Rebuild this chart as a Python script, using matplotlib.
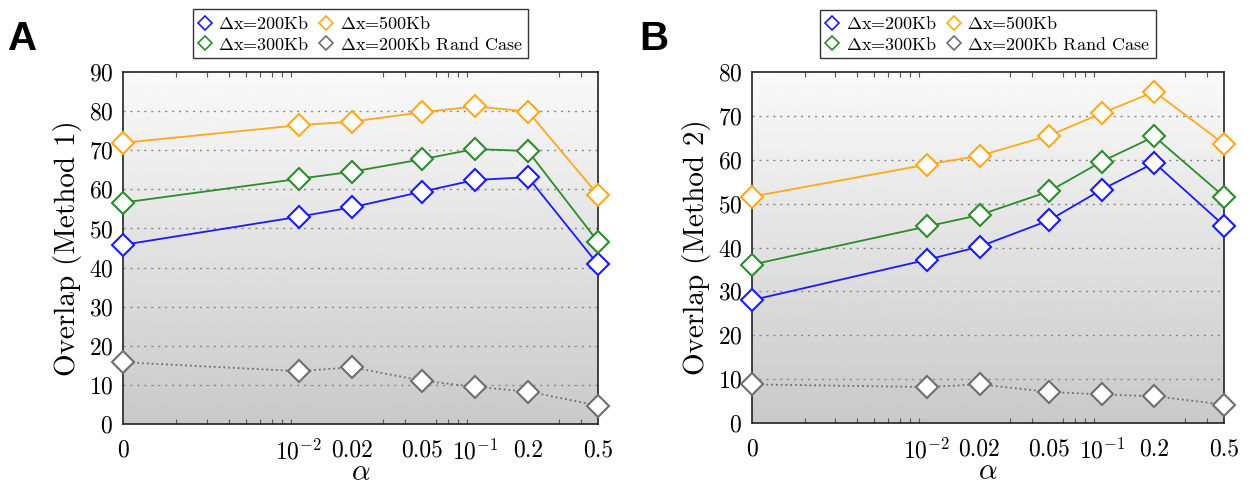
import numpy as np
import matplotlib
matplotlib.use("Agg")
import matplotlib.pyplot as plt
from matplotlib.lines import Line2D
from matplotlib.ticker import FixedLocator, FixedFormatter, LogLocator, NullFormatter

plt.rcParams["mathtext.fontset"] = "cm"
plt.rcParams["font.family"] = ["cmr10", "DejaVu Serif"]
plt.rcParams["axes.unicode_minus"] = False
plt.rcParams["axes.formatter.use_mathtext"] = True

# alpha values; alpha = 0 is drawn at 1e-3 on the log axis
alpha = [1e-3, 0.01, 0.02, 0.05, 0.1, 0.2, 0.5]
alpha_labels = ["0", r"$10^{-2}$", "0.02", "0.05", r"$10^{-1}$", "0.2", "0.5"]

series_names = [r"$\Delta$x=200Kb", r"$\Delta$x=300Kb",
                r"$\Delta$x=500Kb", r"$\Delta$x=200Kb Rand Case"]

# Method 1 overlap
m1_200 = [45.8, 53.0, 55.4, 59.4, 62.4, 63.1, 40.8]
m1_300 = [56.6, 62.7, 64.5, 67.7, 70.3, 69.8, 46.6]
m1_500 = [71.9, 76.4, 77.3, 79.7, 81.2, 79.9, 58.6]
m1_rand = [15.8, 13.5, 14.5, 11.1, 9.5, 8.3, 4.7]

# Method 2 overlap
m2_200 = [28.0, 37.2, 40.2, 46.2, 53.2, 59.3, 45.0]
m2_300 = [36.1, 44.8, 47.4, 52.8, 59.6, 65.3, 51.6]
m2_500 = [51.6, 58.9, 60.9, 65.5, 70.6, 75.5, 63.6]
m2_rand = [8.8, 8.2, 8.8, 7.1, 6.5, 6.1, 4.2]

colors = ["#1a1aff", "#2a8c2a", "#ffa91a", "#6e6e6e"]
styles = ["-", "-", "-", ":"]

fig = plt.figure(figsize=(12.53, 4.88), dpi=100)

W, H = 1253.0, 488.0


def make_axes(left, right, top, bottom):
    rect = [left / W, 1 - bottom / H, (right - left) / W, (bottom - top) / H]
    bg = fig.add_axes(rect, zorder=0)
    grad = np.linspace(0.98, 0.79, 256).reshape(-1, 1)
    bg.imshow(grad, cmap="gray", vmin=0, vmax=1, aspect="auto",
              extent=[0, 1, 0, 1], interpolation="bicubic")
    bg.set_axis_off()
    ax = fig.add_axes(rect, zorder=1)
    ax.set_facecolor("none")
    return ax


def draw_panel(ax, data, ymax, ylabel, letter, letter_x):
    for vals, c, ls in zip(data, colors, styles):
        ax.plot(alpha, vals, linestyle=ls, color=c, lw=1.3,
                marker="D", markersize=11, markerfacecolor="white",
                markeredgecolor=c, markeredgewidth=1.5, clip_on=False,
                zorder=3)
    ax.set_xscale("log")
    ax.set_xlim(1e-3, 0.5)
    ax.set_ylim(0, ymax)
    ax.xaxis.set_major_locator(FixedLocator(alpha))
    ax.xaxis.set_major_formatter(FixedFormatter(alpha_labels))
    ax.xaxis.set_minor_locator(LogLocator(base=10, subs=np.arange(2, 10), numticks=20))
    ax.xaxis.set_minor_formatter(NullFormatter())
    ax.tick_params(axis="x", which="both", direction="in", top=True,
                   length=3.5, width=0.8, color="#555555", pad=11,
                   labelsize=17)
    ax.tick_params(axis="x", which="major", length=0)
    ax.tick_params(axis="y", which="both", length=0, pad=7, labelsize=17)
    ax.set_yticks(np.arange(0, ymax + 1, 10))
    for y in np.arange(10, ymax, 10):
        ax.axhline(y, color="#888888", lw=1.0, linestyle=(0, (1.5, 3.5)),
                   zorder=1)
    for sp in ax.spines.values():
        sp.set_linewidth(1.2)
        sp.set_color("#222222")
    ax.set_xlabel(r"$\alpha$", fontsize=21, labelpad=-3)
    ax.set_ylabel(ylabel, fontsize=21, labelpad=5)

    handles = [Line2D([], [], linestyle="none", marker="D", markersize=7,
                      markerfacecolor="white", markeredgecolor=c,
                      markeredgewidth=1.2) for c in colors]
    leg = ax.legend(handles, series_names, ncol=2, loc="lower center",
                    bbox_to_anchor=(0.5, 1.04), fontsize=13,
                    frameon=True, fancybox=False, edgecolor="black",
                    handlelength=0.7, handletextpad=0.4, columnspacing=0.6,
                    borderpad=0.3, labelspacing=0.2, borderaxespad=0)
    leg.get_frame().set_linewidth(1.0)
    fig.text(letter_x / W, 1 - 50 / H, letter, fontsize=29,
             fontweight="bold", family="Liberation Sans", va="baseline")


ax1 = make_axes(123, 598, 72, 424)
draw_panel(ax1, [m1_200, m1_300, m1_500, m1_rand], 90,
           "Overlap (Method 1)", "A", 8)

ax2 = make_axes(752, 1224, 72, 423)
draw_panel(ax2, [m2_200, m2_300, m2_500, m2_rand], 80,
           "Overlap (Method 2)", "B", 639)

fig.savefig("out.png", dpi=100)
